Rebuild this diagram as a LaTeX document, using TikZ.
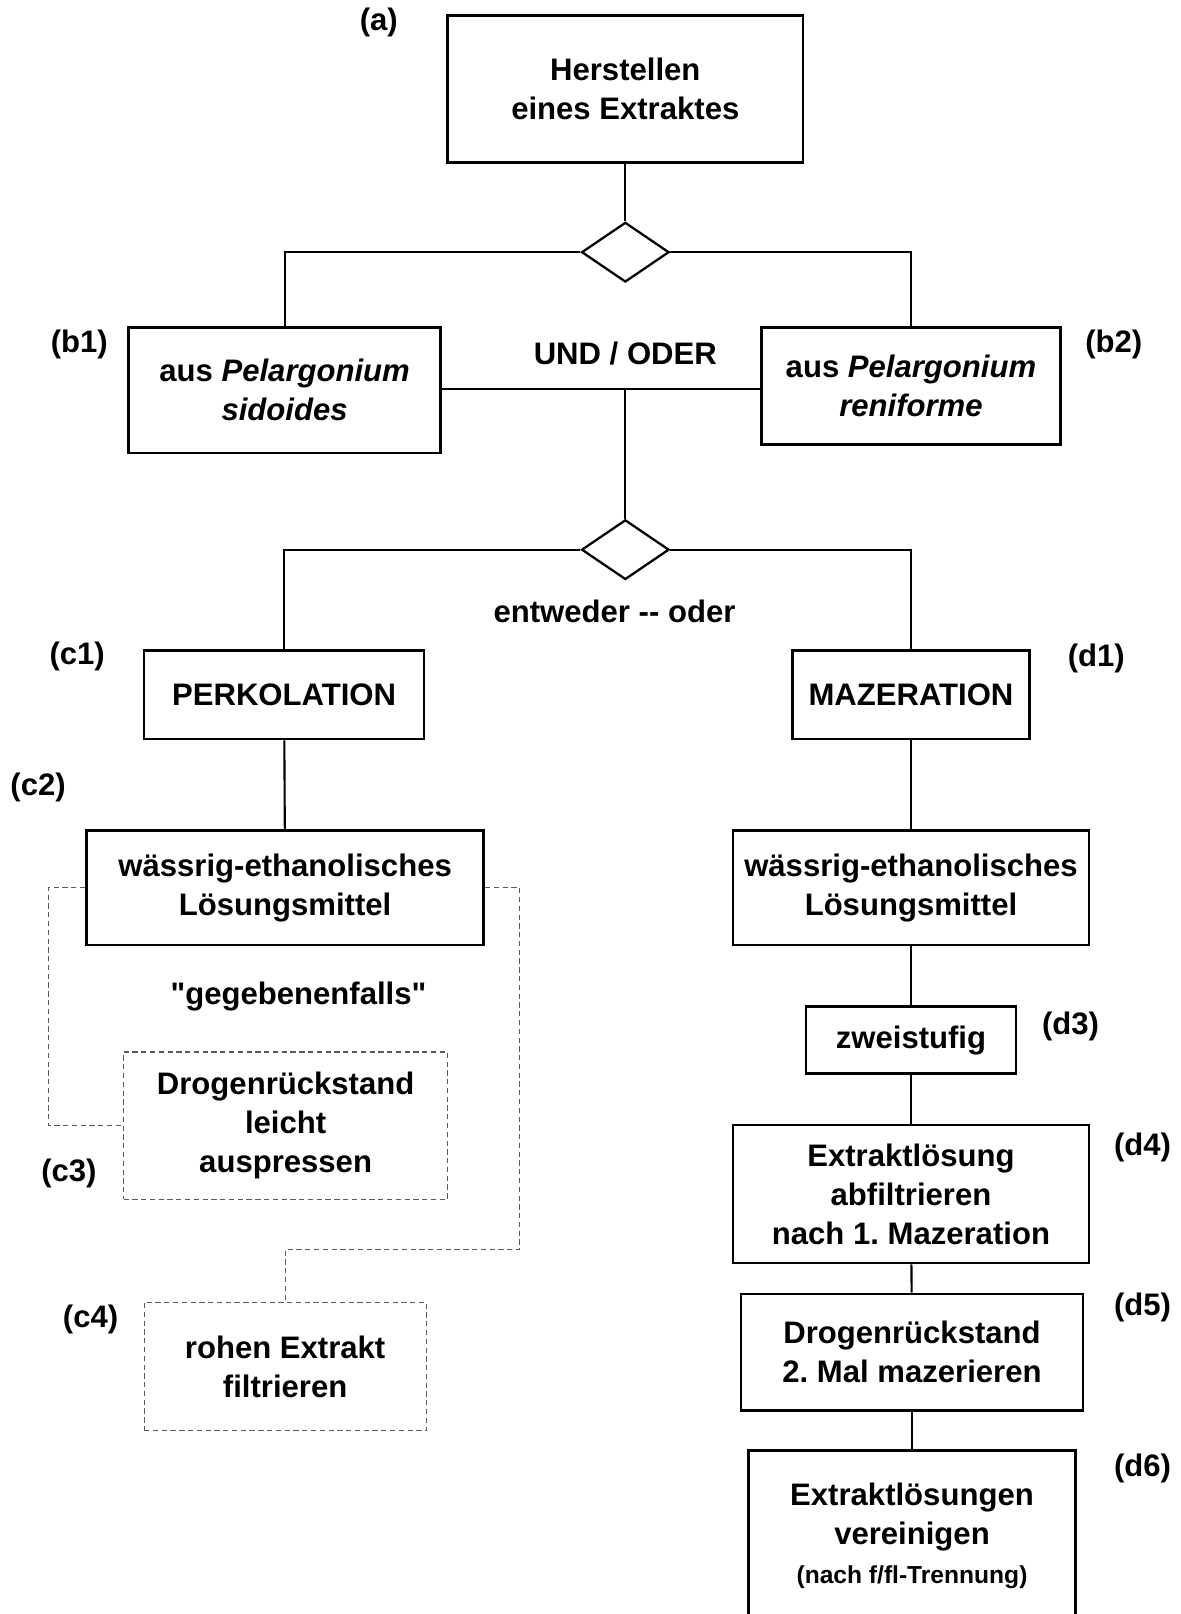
\documentclass[tikz,border=0pt]{standalone}
\usepackage{fontspec}
\setmainfont{Liberation Sans}[Ligatures=TeXOff]
\usetikzlibrary{shapes.geometric}

\begin{document}
\begin{tikzpicture}[x=0.020593cm,y=-0.020593cm,
	font=\fontsize{17.7}{22.2}\selectfont\bfseries\frenchspacing,
	procbox/.style 2 args={draw,line width=1.5pt,inner sep=0pt,align=center,minimum width=#1*0.020593cm,minimum height=#2*0.020593cm},
	optbox/.style 2 args={draw=black!65,line width=0.6pt,dash pattern=on 3pt off 2pt,inner sep=0pt,align=center,minimum width=#1*0.020593cm,minimum height=#2*0.020593cm},
	gate/.style={draw,diamond,line width=1.3pt,inner sep=0pt,minimum width=85*0.020593cm,minimum height=58*0.020593cm},
	link/.style={line width=1.2pt},
	optlink/.style={draw=black!65,line width=0.6pt,dash pattern=on 3pt off 2pt},
	tag/.style={inner sep=0pt}]
	\path[use as bounding box,clip] (0,0) rectangle (1147,1568);

	% top
	\node[procbox={345}{143}] (herst) at (607.5,86.5) {Herstellen\\eines Extraktes};
	\node[tag] (la) at (368,22) {(a)};
	\node[gate] (und) at (607.5,245) {};

	\node[procbox={303}{122}] (sido) at (276.5,379) {aus \textit{Pelargonium}\\\textit{sidoides}};
	\node[procbox={290}{114}] (reni) at (885,375) {aus \textit{Pelargonium}\\\textit{reniforme}};
	\node[tag] (lb1) at (77,335) {(b1)};
	\node[tag] (lb2) at (1082,335) {(b2)};
	\node[tag] (undoder) at (607.5,343) {UND / ODER};
	\coordinate (join) at (607.5,378);

	\node[gate] (oder) at (607.5,534) {};
	\node[tag] (entw) at (597,594) {entweder -{}- oder};

	% left branch
	\node[procbox={272}{86}] (perk) at (276,675) {PERKOLATION};
	\node[tag] (lc1) at (75,638) {(c1)};
	\node[tag] (lc2) at (37,765) {(c2)};
	\node[procbox={386}{111}] (lsgp) at (277,862.5) {wässrig-ethanolisches\\Lösungsmittel};
	\node[tag] (ggf) at (290,968) {"gegebenenfalls"};
	\node[optbox={315}{143}] (pressen) at (277.5,1093.5) {Drogenrückstand\\leicht\\auspressen};
	\node[tag] (lc3) at (67,1140) {(c3)};
	\node[optbox={274}{125}] (filtr) at (277,1327.5) {rohen Extrakt\\filtrieren};
	\node[tag] (lc4) at (88,1282) {(c4)};
	\coordinate (bend) at (505,1214);

	% right branch
	\node[procbox={230}{86}] (maz) at (885,675) {MAZERATION};
	\node[tag] (ld1) at (1065,640) {(d1)};
	\node[procbox={346}{111}] (lsgm) at (885,862.5) {wässrig-ethanolisches\\Lösungsmittel};
	\node[procbox={204}{65}] (zwei) at (885,1010.5) {zweistufig};
	\node[tag] (ld3) at (1040,997) {(d3)};
	\node[procbox={346}{134}] (abf) at (885,1160) {Extraktlösung\\abfiltrieren\\nach 1. Mazeration};
	\node[tag] (ld4) at (1110,1115) {(d4)};
	\node[procbox={332}{113}] (zweimal) at (886,1313.5) {Drogenrückstand\\2. Mal mazerieren};
	\node[tag] (ld5) at (1110,1270) {(d5)};
	\node[procbox={318}{166}] (verein) at (886,1492) {Extraktlösungen\\vereinigen\\{\fontsize{14}{22.2}\selectfont (nach f/fl-Trennung)}};
	\node[tag] (ld6) at (1110,1427) {(d6)};

	% connectors
	\draw[link] (herst) -- (und);
	\draw[link] (und.west) -| (sido.north);
	\draw[link] (und.east) -| (reni.north);
	\draw[link] (sido.east |- join) -- (reni.west |- join);
	\draw[link] (join) -- (oder);
	\draw[link] (oder.west) -| (perk.north);
	\draw[link] (oder.east) -| (maz.north);
	\draw[link] (perk) -- (lsgp);
	\draw[link] (maz) -- (lsgm);
	\draw[link] (lsgm) -- (zwei);
	\draw[link] (zwei) -- (abf);
	\draw[link] (abf) -- (zweimal);
	\draw[link] (zweimal) -- (verein);

	\draw[optlink] (lsgp.west) -- ++(-36,0) |- (pressen.west);
	\draw[optlink] (lsgp.east) -| (bend) -| (filtr.north);
\end{tikzpicture}
\end{document}
